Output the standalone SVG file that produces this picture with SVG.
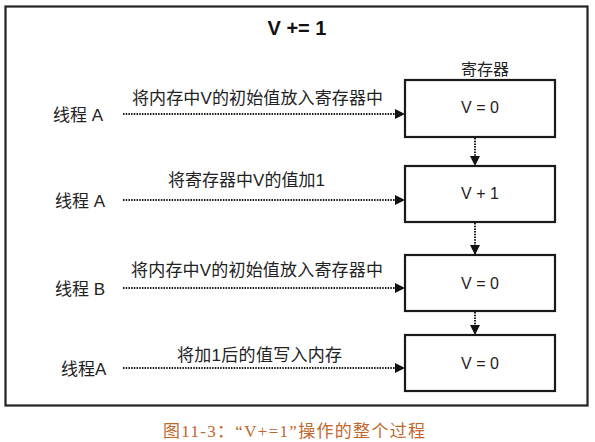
<svg xmlns="http://www.w3.org/2000/svg" width="595" height="442" viewBox="0 0 595 442">
<style>
.cjk{font-family:"Liberation Sans","Noto Sans CJK SC",sans-serif;fill:#222}
.lbl{font-size:17px}
.box{fill:#fff;stroke:#1a1a1a;stroke-width:2.2}
.val{font-family:"Liberation Sans",Arial,sans-serif;font-size:16px;fill:#222;text-anchor:middle}
.dot{stroke:#1a1a1a;stroke-width:2;stroke-dasharray:1.5 1.2;fill:none}
</style>
<defs>
<marker id="ah" viewBox="0 0 10 10" refX="10" refY="5" markerWidth="10" markerHeight="10" markerUnits="userSpaceOnUse" orient="auto">
<path d="M0,0 L10,5 L0,10 Z" fill="#111"/>
</marker>
</defs>
<rect x="0" y="0" width="595" height="442" fill="#fff"/>
<rect id="frame" x="5.5" y="6.5" width="582" height="399" fill="none" stroke="#222" stroke-width="2.2"/>
<text x="297" y="35" font-family="Liberation Sans,Arial,sans-serif" font-size="20" font-weight="bold" text-anchor="middle" fill="#111">V += 1</text>
<text class="cjk" x="485" y="75" font-size="16" text-anchor="middle">寄存器</text>

<g id="reg1"><rect class="box" x="405" y="80" width="150" height="57"/><text class="val" x="480" y="113">V = 0</text></g>
<g id="reg2"><rect class="box" x="405" y="166" width="150" height="56"/><text class="val" x="480" y="199">V + 1</text></g>
<g id="reg3"><rect class="box" x="405" y="255" width="150" height="56"/><text class="val" x="480" y="289">V = 0</text></g>
<g id="reg4"><rect class="box" x="405" y="335" width="150" height="56"/><text class="val" x="480" y="369">V = 0</text></g>

<g id="thread1"><text class="cjk lbl" x="53" y="121">线程 A</text></g>
<g id="thread2"><text class="cjk lbl" x="55" y="207">线程 A</text></g>
<g id="thread3"><text class="cjk lbl" x="55" y="295">线程 B</text></g>
<g id="thread4"><text class="cjk lbl" x="61" y="375">线程A</text></g>

<g id="connectors">
<line class="dot" x1="123" y1="114" x2="405" y2="114" marker-end="url(#ah)"/>
<line class="dot" x1="123" y1="200" x2="405" y2="200" marker-end="url(#ah)"/>
<line class="dot" x1="123" y1="288" x2="405" y2="288" marker-end="url(#ah)"/>
<line class="dot" x1="123" y1="368" x2="405" y2="368" marker-end="url(#ah)"/>
<line class="dot" x1="475" y1="138" x2="475" y2="166" marker-end="url(#ah)"/>
<line class="dot" x1="475" y1="223" x2="475" y2="255" marker-end="url(#ah)"/>
<line class="dot" x1="475" y1="312" x2="475" y2="335" marker-end="url(#ah)"/>
<text class="cjk lbl" x="132" y="104" textLength="251" lengthAdjust="spacing">将内存中V的初始值放入寄存器中</text>
<text class="cjk lbl" x="168" y="186" textLength="157" lengthAdjust="spacing">将寄存器中V的值加1</text>
<text class="cjk lbl" x="131" y="276" textLength="252" lengthAdjust="spacing">将内存中V的初始值放入寄存器中</text>
<text class="cjk lbl" x="177" y="361" textLength="165" lengthAdjust="spacing">将加1后的值写入内存</text>
</g>

<text x="163" y="437" font-family="Liberation Serif,Noto Sans CJK SC,serif" font-size="17" fill="#c0672d" textLength="262" lengthAdjust="spacing">图11-3：“V+=1”操作的整个过程</text>
</svg>
